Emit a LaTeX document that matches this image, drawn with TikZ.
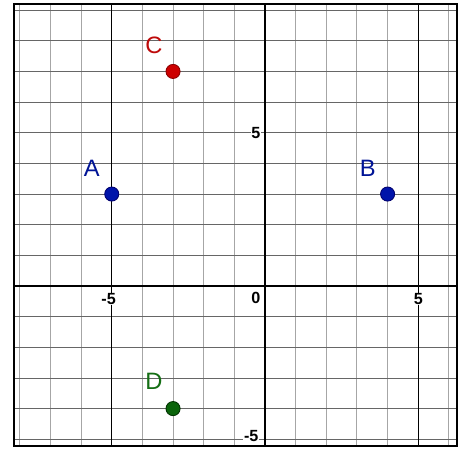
\documentclass[tikz,border=0pt]{standalone}
\usepackage{fontspec}
\setmainfont{Liberation Sans}
\begin{document}
\begin{tikzpicture}[
  minorv/.style={draw=black!35, line width=0.9pt},
  minorh/.style={draw=black!60, line width=0.8pt},
  majorline/.style={draw=black, line width=1.2pt},
  axisline/.style={draw=black, line width=2.2pt},
  frameline/.style={draw=black, line width=2pt},
  ticklab/.style={font=\fontsize{15}{15}\selectfont\bfseries, fill=white, inner sep=0.5pt},
  ptlab/.style={font=\fontsize{22}{22}\selectfont},
  dot/.style={circle, minimum size=0.46cm, inner sep=0pt, line width=0.8pt}
]
\useasboundingbox (-8.646,-5.514) rectangle (6.558,9.331);
\fill[white] (-8.646,-5.514) rectangle (6.558,9.331);
% minor vertical lines
\foreach \x in {-8,-7,-6,-4,-3,-2,-1,1,2,3,4,6}
  \draw[minorv] (\x,-5.22) -- (\x,9.2);
% horizontal lines
\foreach \y in {-5,-4,-3,-2,-1,1,2,3,4,5,6,7,8,9}
  \draw[minorh] (-8.19,\y) -- (6.26,\y);
% major vertical lines
\foreach \x in {-5,5}
  \draw[majorline] (\x,-5.22) -- (\x,9.2);
% axes
\draw[axisline] (-8.19,0) -- (6.26,0);
\draw[axisline] (0,-5.22) -- (0,9.2);
% frame
\draw[frameline] (-8.19,-5.22) rectangle (6.26,9.2);
% tick labels
\node[ticklab] (tx1) at (-5.1,-0.42) {-5};
\node[ticklab] (tx2) at (5.0,-0.42) {5};
\node[ticklab] (t0) at (-0.3,-0.38) {0};
\node[ticklab] (ty1) at (-0.3,5.0) {5};
\node[ticklab] (ty2) at (-0.45,-4.9) {-5};
% points
\node[dot, fill={rgb,255:red,0;green,20;blue,170}, draw={rgb,255:red,0;green,0;blue,110}] (A) at (-5,3) {};
\node[dot, fill={rgb,255:red,0;green,20;blue,170}, draw={rgb,255:red,0;green,0;blue,110}] (B) at (4,3) {};
\node[dot, fill={rgb,255:red,205;green,0;blue,0}, draw={rgb,255:red,140;green,0;blue,0}] (C) at (-3,7) {};
\node[dot, fill={rgb,255:red,10;green,100;blue,10}, draw={rgb,255:red,0;green,50;blue,0}] (D) at (-3,-4) {};
% point labels
\node[ptlab, text={rgb,255:red,0;green,20;blue,150}] (lA) at (-5.65,3.85) {A};
\node[ptlab, text={rgb,255:red,0;green,20;blue,150}] (lB) at (3.35,3.85) {B};
\node[ptlab, text={rgb,255:red,190;green,10;blue,10}] (lC) at (-3.62,7.85) {C};
\node[ptlab, text={rgb,255:red,20;green,110;blue,20}] (lD) at (-3.62,-3.1) {D};
\end{tikzpicture}
\end{document}
